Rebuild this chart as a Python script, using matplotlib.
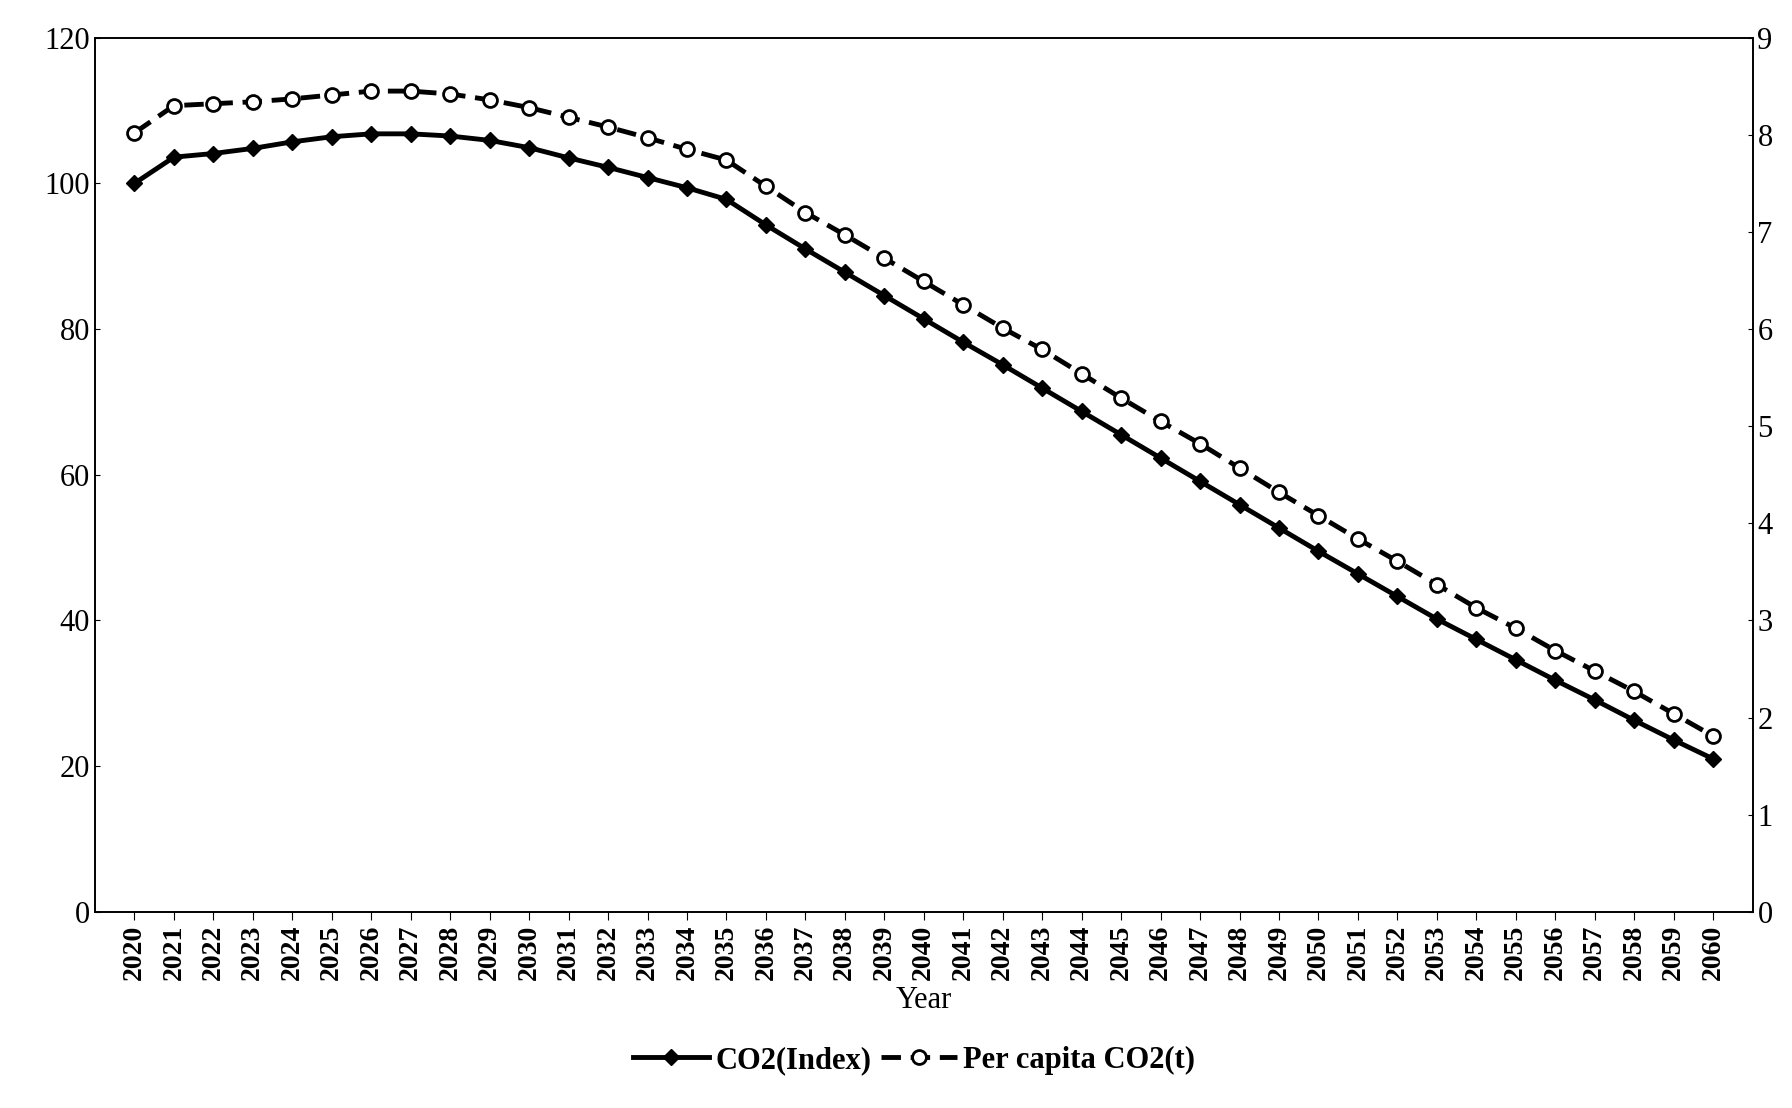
import matplotlib
matplotlib.use("Agg")
import matplotlib.pyplot as plt
from matplotlib.lines import Line2D

years = list(range(2020, 2061))
co2_index = [100, 103.6, 104.1, 104.8, 105.7, 106.4, 106.8, 106.8, 106.5, 105.9,
             104.9, 103.5, 102.2, 100.8, 99.4, 97.8, 94.3, 91.0, 87.8, 84.6,
             81.4, 78.2, 75.1, 71.9, 68.7, 65.5, 62.3, 59.1, 55.9, 52.7,
             49.5, 46.4, 43.3, 40.2, 37.4, 34.6, 31.8, 29.1, 26.3, 23.6, 21.0]
per_capita = [8.02, 8.30, 8.32, 8.34, 8.37, 8.41, 8.45, 8.45, 8.42, 8.36,
              8.28, 8.18, 8.08, 7.97, 7.85, 7.74, 7.47, 7.20, 6.97, 6.73,
              6.49, 6.25, 6.01, 5.79, 5.54, 5.29, 5.05, 4.82, 4.57, 4.32,
              4.08, 3.84, 3.61, 3.37, 3.13, 2.92, 2.69, 2.48, 2.27, 2.04, 1.81]

plt.rcParams['font.family'] = ['Liberation Serif', 'DejaVu Serif']
fig = plt.figure(figsize=(17.92, 11.08), dpi=100)
ax = fig.add_axes([0.053, 0.177, 0.925, 0.789])
ax2 = ax.twinx()

ax.plot(years, co2_index, color='black', lw=3.5, marker='D', ms=8, label='CO2(Index)')
ax2.plot(years, per_capita, color='black', lw=3.5, ls=(0, (4, 2)), marker='o', ms=10,
         mfc='white', mew=2, label='Per capita CO2(t)')

ax.set_xlim(2019, 2061)
ax.set_ylim(0, 120)
ax2.set_ylim(0, 9)
ax.set_yticks(range(0, 121, 20))
ax2.set_yticks(range(0, 10))
ax.set_xticks(years)
ax.set_xticklabels([str(y) for y in years], rotation=90, fontsize=20, fontweight='bold')
ax.tick_params(axis='y', labelsize=22, direction='in')
ax2.tick_params(axis='y', labelsize=22, direction='in')
ax.tick_params(axis='x', direction='out', length=6)
for a in (ax, ax2):
    for s in a.spines.values():
        s.set_linewidth(1.2)
ax.set_xlabel('Year', fontsize=22, labelpad=4)

h = [Line2D([], [], color='black', lw=3.5, marker='D', ms=8),
     Line2D([], [], color='black', lw=3.5, ls=(0, (4, 2)), marker='o', ms=10, mfc='white', mew=2)]
fig.legend(h, ['CO2(Index)', 'Per capita CO2(t)'], loc='lower center', ncol=2,
           bbox_to_anchor=(0.51, 0.005), frameon=False,
           prop={'size': 22, 'weight': 'bold'},
           handlelength=2.5, columnspacing=0.3, handletextpad=0.2)
fig.savefig('out.png', dpi=100)
